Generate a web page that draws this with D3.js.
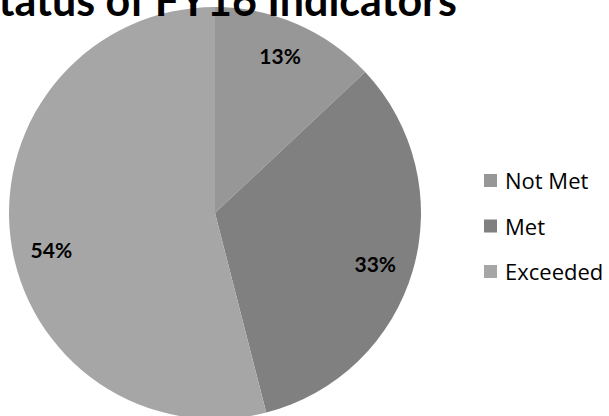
<!DOCTYPE html>
<html>
<head>
<meta charset="utf-8">
<script src="https://cdn.jsdelivr.net/npm/d3@7"></script>
<style>
  body { margin: 0; background: #fff; }
  text { font-family: Lato, "Open Sans", sans-serif; }
</style>
</head>
<body>
<div id="chart-area"></div>
<script>
// DATA --------------------------------------------------------
var categories = ["Not Met", "Met", "Exceeded"];
var values = [13, 33, 54];
var labels = ["13%", "33%", "54%"];
var colors = ["#979797", "#808080", "#a6a6a6"];

var width = 609, height = 416;
var cx = 215, cy = 213, radius = 206;
// small nudges so labels sit where the original placed them
var labelShift = [[-2, -1], [-2, 4], [4, 16]];

var svg = d3.select("#chart-area").append("svg")
    .attr("width", width)
    .attr("height", height);

// PIE ---------------------------------------------------------
var pie = d3.pie().sort(null).value(d => d);
var arc = d3.arc().innerRadius(0).outerRadius(radius);
var labelArc = d3.arc().innerRadius(169).outerRadius(169);

var pieGroup = svg.append("g")
    .attr("transform", "translate(" + cx + "," + cy + ")");

var slices = pie(values);
pieGroup.selectAll("path")
    .data(slices)
    .enter().append("path")
    .attr("d", arc)
    .attr("fill", (d, i) => colors[i]);

pieGroup.selectAll("text")
    .data(slices)
    .enter().append("text")
    .attr("transform", (d, i) => {
        var c = labelArc.centroid(d);
        return "translate(" + (c[0] + labelShift[i][0]) + "," + (c[1] + labelShift[i][1]) + ")";
    })
    .attr("text-anchor", "middle")
    .attr("dy", "0.35em")
    .attr("font-size", "21px")
    .attr("font-weight", "bold")
    .attr("fill", "#000")
    .text((d, i) => labels[i]);

// TITLE -------------------------------------------------------
svg.append("text")
    .attr("x", 457)
    .attr("y", 16)
    .attr("text-anchor", "end")
    .attr("font-size", "43px")
    .attr("font-weight", "bold")
    .text("Status of FY16 Indicators");

// LEGEND ------------------------------------------------------
var legend = svg.append("g").attr("transform", "translate(484,174)");
categories.forEach((c, i) => {
    legend.append("rect")
        .attr("x", 0)
        .attr("y", i * 45.5)
        .attr("width", 13)
        .attr("height", 13)
        .attr("fill", colors[i]);
    legend.append("text")
        .attr("x", 21)
        .attr("y", i * 45.5 + 15)
        .style("font-family", "'Open Sans', sans-serif")
        .attr("font-size", "22px")
        .text(c);
});
</script>
</body>
</html>
